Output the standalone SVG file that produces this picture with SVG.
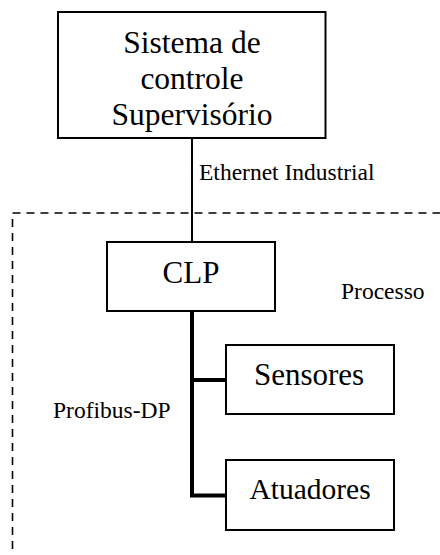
<svg xmlns="http://www.w3.org/2000/svg" width="440" height="555" viewBox="0 0 440 555">
  <style>
    .box { fill: #fff; stroke: #000; stroke-width: 2; }
    text { font-family: 'Liberation Serif', serif; fill: #000; }
    .big { font-size: 31.5px; text-anchor: middle; }
    .lbl { font-size: 23.5px; }
    .zone { fill: none; stroke: #000; stroke-width: 1.6; stroke-dasharray: 8 6; }
    .eth { stroke: #000; stroke-width: 2; fill: none; }
    .bus { stroke: #000; stroke-width: 4; fill: none; }
  </style>
  <rect width="440" height="555" fill="#fff"/>

  <!-- process area boundary -->
  <g id="processo">
    <rect class="zone" x="12.5" y="213" width="460" height="380"/>
    <text class="lbl" x="341" y="299">Processo</text>
  </g>

  <!-- connectors: Ethernet link and Profibus-DP bus -->
  <g id="connectors">
    <line class="eth" x1="192" y1="138" x2="192" y2="242"/>
    <text class="lbl" x="199" y="180">Ethernet Industrial</text>
    <path class="bus" d="M192 311 V497 M190 380 H226 M190 495.5 H226"/>
    <text class="lbl" x="53" y="418">Profibus-DP</text>
  </g>

  <g id="supervisorio">
    <rect class="box" x="58" y="12" width="267.5" height="126"/>
    <text class="big" x="192" y="52.5">Sistema de</text>
    <text class="big" x="192" y="89">controle</text>
    <text class="big" x="192" y="125">Supervisório</text>
  </g>

  <g id="clp">
    <rect class="box" x="107" y="242" width="168" height="69"/>
    <text class="big" x="191" y="283" style="font-size:31px">CLP</text>
  </g>

  <g id="sensores">
    <rect class="box" x="226" y="345" width="168" height="69"/>
    <text class="big" x="309" y="385" style="font-size:31px">Sensores</text>
  </g>

  <g id="atuadores">
    <rect class="box" x="226" y="460" width="168" height="70"/>
    <text class="big" x="310" y="499" style="font-size:29.5px">Atuadores</text>
  </g>
</svg>
